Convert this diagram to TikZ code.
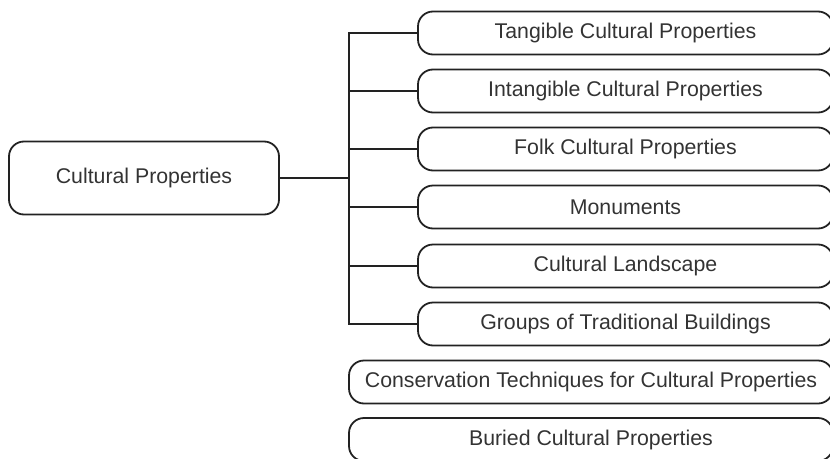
\documentclass[tikz,border=0pt]{standalone}
\usepackage{fontspec}
\setmainfont{Liberation Sans}
\definecolor{inkline}{HTML}{222222}
\definecolor{inktext}{HTML}{333333}
\begin{document}
\begin{tikzpicture}[x=1pt,y=-1pt,
		box/.style={draw=inkline, line width=1.8pt, rounded corners=15pt, inner sep=0pt,
			text=inktext, font=\fontsize{21.3}{25}\selectfont},
		leaf/.style={box, minimum width=415pt, minimum height=43pt},
		wideleaf/.style={box, minimum width=484pt, minimum height=43pt},
		link/.style={draw=inkline, line width=1.8pt}]
	\useasboundingbox (0,0) rectangle (830,458);
	\clip (0,0) rectangle (830,458);
	% root
	\node[box, minimum width=270pt, minimum height=73pt] (root) at (144,178) {Cultural Properties};
	% branches
	\node[leaf] (tangible) at (625.5,33) {Tangible Cultural Properties};
	\node[leaf] (intangible) at (625.5,91) {Intangible Cultural Properties};
	\node[leaf] (folk) at (625.5,149) {Folk Cultural Properties};
	\node[leaf] (monuments) at (625.5,207) {Monuments};
	\node[leaf] (landscape) at (625.5,266) {Cultural Landscape};
	\node[leaf] (groups) at (625.5,324) {Groups of Traditional Buildings};
	% unlinked boxes
	\node[wideleaf] (conservation) at (591,382) {Conservation Techniques for Cultural Properties};
	\node[wideleaf] (buried) at (591,439.5) {Buried Cultural Properties};
	% trunk
	\coordinate (trunk) at (349,178);
	\draw[link] (root.east) -- (trunk);
	\draw[link] (tangible.west) -- (tangible.west -| trunk) -- (groups.west -| trunk) -- (groups.west);
	\foreach \n in {intangible,folk,monuments,landscape}
		\draw[link] (\n.west -| trunk) -- (\n.west);
\end{tikzpicture}
\end{document}
